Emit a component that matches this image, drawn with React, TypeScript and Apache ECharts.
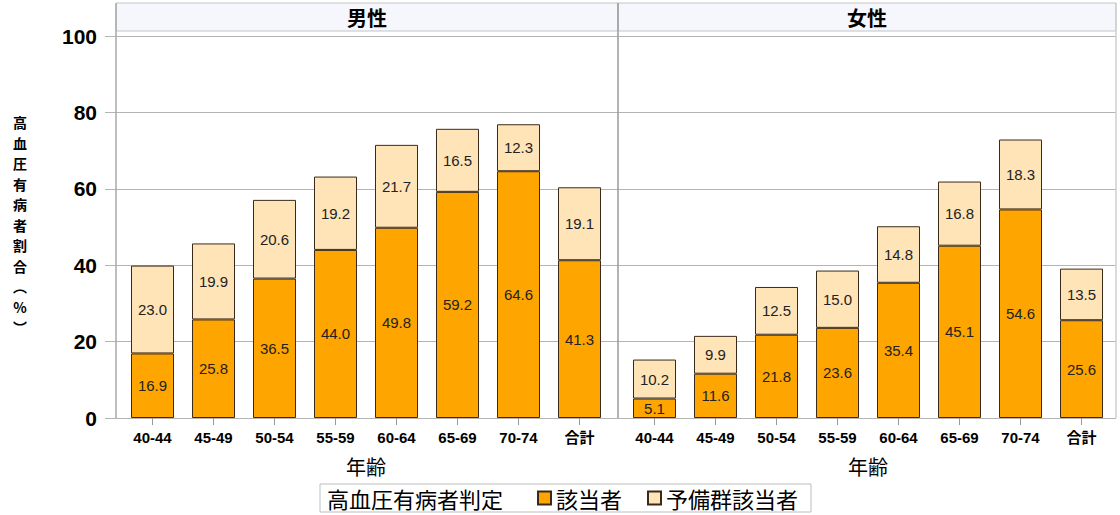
import { useEffect, useRef } from 'react';
import * as echarts from 'echarts';

const ageGroups = ['40-44', '45-49', '50-54', '55-59', '60-64', '65-69', '70-74', '合計'];
const panelTitles = ['男性', '女性'];
const seriesNames = ['該当者', '予備群該当者'];
const maleYes = [16.9, 25.8, 36.5, 44.0, 49.8, 59.2, 64.6, 41.3];
const malePre = [23.0, 19.9, 20.6, 19.2, 21.7, 16.5, 12.3, 19.1];
const femaleYes = [5.1, 11.6, 21.8, 23.6, 35.4, 45.1, 54.6, 25.6];
const femalePre = [10.2, 9.9, 12.5, 15.0, 14.8, 16.8, 18.3, 13.5];
const yMin = 0;
const yMax = 100;
const yInterval = 20;
const xAxisTitle = '年齢';
const yAxisTitle = '高血圧有病者割合︵%︶';
const legendTitle = '高血圧有病者判定';

const CJK = '"Noto Sans CJK JP", "Noto Sans", sans-serif';
const LAT = '"Liberation Sans", Arial, "Noto Sans CJK JP", sans-serif';
const COLORS = ['#FFA500', '#FFE4B8'];
const GRID = '#b4b4b4';

export default function App() {
  const ref = useRef<HTMLDivElement>(null);
  useEffect(() => {
    if (!ref.current) return;
    const chart = echarts.init(ref.current, undefined, { renderer: 'svg' });
    const panelGrids = [
      { left: 122, width: 488, top: 36, height: 382 },
      { left: 624, width: 488, top: 36, height: 382 },
    ];
    const panelData = [
      [maleYes, malePre],
      [femaleYes, femalePre],
    ];
    const xAxes: any[] = [
      { gridIndex: 0, type: 'value', min: 0, max: 1, show: false },
    ];
    const yAxes: any[] = [
      {
        gridIndex: 0,
        type: 'value',
        min: yMin,
        max: yMax,
        interval: yInterval,
        axisLine: { show: false },
        axisTick: { show: true, length: 11, lineStyle: { color: GRID, width: 1 } },
        axisLabel: {
          margin: 19,
          fontFamily: LAT,
          fontWeight: 'bold',
          fontSize: 21,
          color: '#000',
        },
        splitLine: { show: true, lineStyle: { color: GRID, width: 1 } },
      },
    ];
    const series: any[] = [];
    panelGrids.forEach((_, i) => {
      xAxes.push({
        gridIndex: i + 1,
        type: 'category',
        data: ageGroups,
        axisLine: { show: false },
        axisTick: { show: true, alignWithLabel: true, length: 7, lineStyle: { color: '#999' } },
        axisLabel: {
          margin: 12,
          fontFamily: LAT,
          fontWeight: 'bold',
          fontSize: 15,
          color: '#000',
        },
        name: xAxisTitle,
        nameLocation: 'middle',
        nameGap: 38,
        nameTextStyle: { fontFamily: CJK, fontSize: 20, color: '#000' },
      });
      yAxes.push({
        gridIndex: i + 1,
        type: 'value',
        min: yMin,
        max: yMax,
        interval: yInterval,
        show: false,
        splitLine: { show: false },
      });
      panelData[i].forEach((vals, k) => {
        series.push({
          type: 'bar',
          name: seriesNames[k],
          xAxisIndex: i + 1,
          yAxisIndex: i + 1,
          stack: 'p' + i,
          barWidth: 43,
          data: vals,
          itemStyle: { color: COLORS[k], borderColor: '#3a2a1a', borderWidth: 1 },
          label: {
            show: true,
            position: 'inside',
            fontFamily: LAT,
            fontSize: 15,
            color: '#222',
            formatter: (p: any) => Number(p.value).toFixed(1),
          },
        });
      });
    });

    const panelBounds = [
      [116, 618],
      [618, 1116],
    ];
    const graphic: any[] = [];
    panelBounds.forEach(([a, b], i) => {
      graphic.push({
        type: 'rect',
        shape: { x: a, y: 3, width: b - a, height: 28 },
        style: { fill: '#F5F7FD', stroke: '#c4c4c4', lineWidth: 1 },
        z: 1,
      });
      graphic.push({
        type: 'text',
        x: (a + b) / 2,
        y: 17,
        style: {
          text: panelTitles[i],
          fontFamily: CJK,
          fontWeight: 'bold',
          fontSize: 20,
          fill: '#000',
          align: 'center',
          verticalAlign: 'middle',
        },
        z: 2,
      });
    });
    [
      [116, '#a8a8a8'],
      [618, '#9a9a9a'],
      [1116, '#cfcfcf'],
    ].forEach(([x, c]) => {
      graphic.push({
        type: 'line',
        shape: { x1: x, y1: 3, x2: x, y2: 418 },
        style: { stroke: c, lineWidth: 1.5 },
        z: 3,
      });
    });
    graphic.push({
      type: 'group',
      children: yAxisTitle.split('').map((ch, j) => ({
        type: 'text',
        x: 20,
        y: 122 + j * 20.5,
        style: {
          text: ch,
          fontFamily: CJK,
          fontWeight: 'bold',
          fontSize: 14,
          lineHeight: 17,
          fill: '#000',
          align: 'center',
          verticalAlign: 'middle',
        },
      })),
    });
    graphic.push({
      type: 'rect',
      shape: { x: 320, y: 484, width: 491, height: 28 },
      style: { fill: 'none', stroke: '#bdbdbd', lineWidth: 1 },
    });
    graphic.push({
      type: 'text',
      x: 327,
      y: 498,
      style: {
        text: legendTitle,
        fontFamily: CJK,
        fontSize: 22,
        fill: '#000',
        align: 'left',
        verticalAlign: 'middle',
      },
    });

    chart.setOption({
      animation: false,
      backgroundColor: '#fff',
      grid: [
        { left: 116, right: 4, top: 36, height: 382 },
        ...panelGrids,
      ],
      xAxis: xAxes,
      yAxis: yAxes,
      series,
      legend: {
        data: seriesNames,
        left: 537,
        top: 486,
        padding: 0,
        icon: 'rect',
        itemWidth: 13,
        itemHeight: 13,
        itemGap: 25,
        textStyle: { fontFamily: CJK, fontSize: 22, color: '#000', lineHeight: 24 },
      },
      graphic,
    });
    return () => chart.dispose();
  }, []);
  return (
    <div
      ref={ref}
      style={{ position: 'fixed', left: 0, top: 0, width: 1120, height: 515 }}
    />
  );
}
